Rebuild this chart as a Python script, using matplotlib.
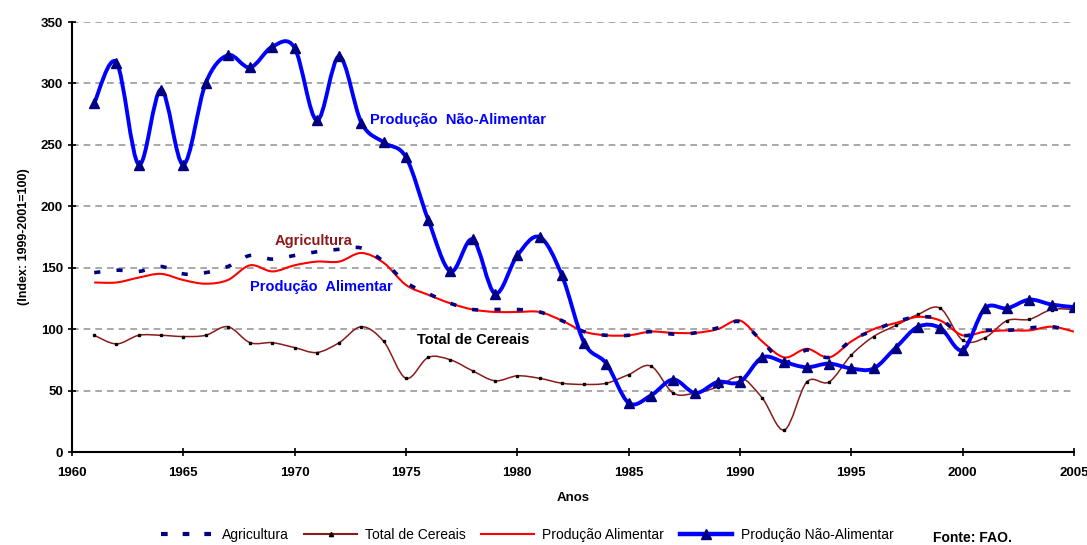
import numpy as np
import matplotlib
matplotlib.use("Agg")
import matplotlib.pyplot as plt
from matplotlib.path import Path
from matplotlib.patches import PathPatch
from matplotlib.lines import Line2D

plt.rcParams["font.family"] = ["Liberation Sans", "DejaVu Sans"]

# Anos e indices (1999-2001 = 100)
anos = list(range(1961, 2006))

agricultura = [146, 148, 147, 151, 145, 146, 151, 160, 157, 160,
               163, 165, 166, 155, 138, 129, 121, 116, 116, 116,
               114, 107, 98, 95, 95, 98, 96, 97, 101, 106,
               90, 73, 83, 77, 91, 99, 106, 110, 108, 95,
               99, 99, 101, 102, 98]

cereais = [95, 88, 95, 95, 94, 95, 102, 89, 89, 85,
           81, 89, 102, 90, 60, 77, 75, 66, 58, 62,
           60, 56, 55, 56, 63, 70, 48, 48, 53, 61,
           44, 18, 57, 57, 79, 94, 103, 112, 117, 91,
           93, 107, 108, 116, 116]

alimentar = [138, 138, 142, 145, 140, 137, 140, 152, 147, 152,
             155, 155, 162, 154, 136, 128, 121, 116, 114, 114,
             114, 107, 98, 95, 95, 98, 97, 97, 100, 107,
             90, 77, 84, 77, 90, 100, 105, 110, 107, 95,
             98, 99, 99, 102, 98]

nao_alimentar = [284, 317, 234, 295, 234, 300, 323, 313, 330, 329,
                 270, 322, 268, 252, 240, 189, 147, 173, 129, 160,
                 175, 144, 89, 72, 40, 46, 59, 48, 57, 57,
                 77, 73, 69, 72, 68, 68, 85, 102, 101, 83,
                 117, 117, 124, 120, 118]


def curva_suave(x, y):
    # linha suavizada (bezier tipo Catmull-Rom) que passa pelos pontos
    x = np.asarray(x, float)
    y = np.asarray(y, float)
    pts = np.column_stack([x, y])
    verts = [pts[0]]
    codes = [Path.MOVETO]
    n = len(pts)
    for i in range(n - 1):
        p0 = pts[max(i - 1, 0)]
        p1 = pts[i]
        p2 = pts[i + 1]
        p3 = pts[min(i + 2, n - 1)]
        c1 = p1 + (p2 - p0) / 6.0
        c2 = p2 - (p3 - p1) / 6.0
        verts += [c1, c2, p2]
        codes += [Path.CURVE4] * 3
    return Path(verts, codes)


fig = plt.figure(figsize=(10.87, 5.45), dpi=100)
ax = fig.add_axes([0.0662, 0.1706, 0.9218, 0.789])

# grelha horizontal tracejada
for v in range(50, 351, 50):
    ax.axhline(v, color="#999999", lw=1.2, ls=(0, (4, 3)), zorder=0)

cor_cereais = "#8B1A1A"

ax.add_patch(PathPatch(curva_suave(anos, cereais), fill=False,
                       edgecolor=cor_cereais, lw=1.1, zorder=2))
ax.plot(anos, cereais, ls="none", marker="s", ms=1.8, color="black", zorder=3)

ax.add_patch(PathPatch(curva_suave(anos, alimentar), fill=False,
                       edgecolor="#FF0000", lw=1.5, zorder=3))

ax.add_patch(PathPatch(curva_suave(anos, agricultura), fill=False,
                       edgecolor="#000080", lw=2.6, ls=(0, (1.7, 4.5)),
                       zorder=4))

ax.add_patch(PathPatch(curva_suave(anos, nao_alimentar), fill=False,
                       edgecolor="#0000FF", lw=2.8, zorder=5))
ax.plot(anos, nao_alimentar, ls="none", marker="^", ms=7,
        color="#000080", zorder=6)

ax.set_xlim(1960, 2005)
ax.set_ylim(0, 350)
ax.set_xticks(range(1960, 2006, 5))
ax.set_yticks(range(0, 351, 50))

for s in ["top", "right"]:
    ax.spines[s].set_visible(False)
ax.spines["left"].set_linewidth(1.5)
ax.spines["bottom"].set_linewidth(1.5)
ax.tick_params(axis="both", direction="inout", length=6, width=1.2,
               labelsize=9.5)
ax.tick_params(axis="x", pad=8)
for lb in ax.get_xticklabels() + ax.get_yticklabels():
    lb.set_fontweight("bold")

ax.set_xlabel("Anos", fontsize=9.5, fontweight="bold", labelpad=9)
ax.set_ylabel("(Index: 1999-2001=100)", fontsize=9, fontweight="bold",
              labelpad=8)

# rotulos das series
ax.text(1973.4, 270, "Produção  Não-Alimentar", color="#0000FF",
        fontsize=10.5, fontweight="bold", va="center")
ax.text(1969.1, 172, "Agricultura", color="#8B1A1A",
        fontsize=10.5, fontweight="bold", va="center")
ax.text(1968.0, 134, "Produção  Alimentar", color="#0000FF",
        fontsize=10.5, fontweight="bold", va="center")
ax.text(1975.5, 91, "Total de Cereais", color="black",
        fontsize=10.5, fontweight="bold", va="center")

handles = [
    Line2D([], [], color="#000080", lw=3.0, ls=(0, (1.6, 3.6))),
    Line2D([], [], color=cor_cereais, lw=1.5, marker="^", ms=3,
           markerfacecolor="black", markeredgecolor="black"),
    Line2D([], [], color="#FF0000", lw=1.5),
    Line2D([], [], color="#0000FF", lw=3.2, marker="^", ms=7,
           markerfacecolor="#000080", markeredgecolor="#000080"),
]
nomes = ["Agricultura", "Total de Cereais", "Produção Alimentar",
         "Produção Não-Alimentar"]
fig.legend(handles, nomes, loc="center", bbox_to_anchor=(0.485, 0.018),
           ncol=4, frameon=False, fontsize=10, handlelength=3.8,
           columnspacing=1.1, handletextpad=0.6)

fig.text(0.858, 0.005, "Fonte: FAO.", fontsize=10, fontweight="bold")

fig.savefig("out.png", dpi=100)
